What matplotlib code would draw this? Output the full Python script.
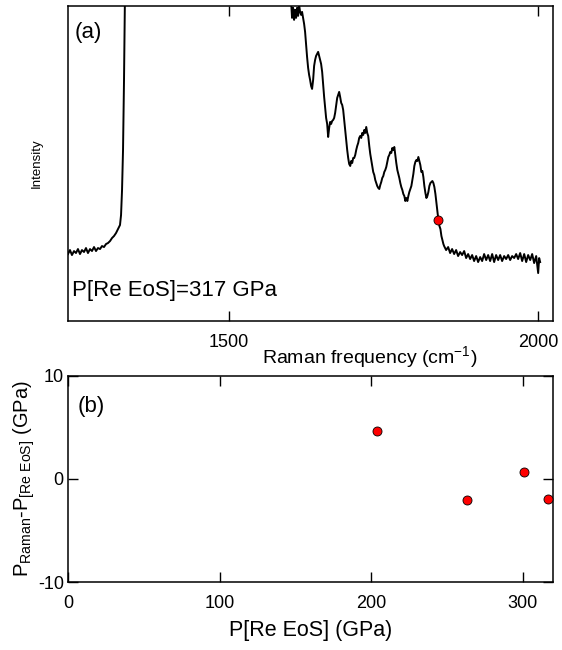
import matplotlib
matplotlib.use("Agg")
import matplotlib.pyplot as plt

plt.rcParams['font.family'] = ['Liberation Sans', 'DejaVu Sans']
plt.rcParams['mathtext.fontset'] = 'custom'
plt.rcParams['mathtext.rm'] = 'Liberation Sans'
plt.rcParams['mathtext.it'] = 'Liberation Sans:italic'
plt.rcParams['axes.unicode_minus'] = False

# (a) Raman spectrum, P[Re EoS] = 317 GPa (intensity in arbitrary units)
raman_shift = [
    1239.5, 1242.7, 1245.9, 1249.2, 1252.4, 1255.6, 1258.9, 1262.1, 1265.4, 1268.6,
    1271.8, 1275.1, 1278.3, 1281.6, 1284.8, 1288.0, 1291.3, 1294.5, 1297.7, 1301.0,
    1304.2, 1307.5, 1310.7, 1313.9, 1317.2, 1320.4, 1323.6, 1325.3, 1326.9, 1328.5,
    1330.1, 1331.7, 1333.4, 1340.0, 1595.0,
    1600.3, 1601.9, 1603.6, 1605.2, 1606.8, 1608.4, 1610.0, 1611.7, 1613.3, 1614.9,
    1616.5, 1618.1, 1619.8, 1621.4, 1623.0, 1624.6, 1626.2, 1627.9, 1629.5, 1631.1,
    1632.7, 1634.3, 1636.0, 1637.6, 1639.2, 1640.8, 1642.5, 1644.1, 1645.7, 1647.3,
    1648.9, 1650.6, 1652.2, 1653.8, 1655.4, 1657.0, 1658.7, 1660.3, 1661.9, 1663.5,
    1665.1, 1666.8, 1668.4, 1670.0, 1671.6, 1673.3, 1674.9, 1676.5, 1678.1, 1679.7,
    1681.4, 1683.0, 1684.6, 1686.2, 1687.8, 1689.5, 1691.1, 1692.7, 1694.3, 1696.0,
    1697.6, 1699.2, 1700.8, 1702.4, 1704.1, 1705.7, 1707.3, 1708.9, 1710.5, 1712.2,
    1713.8, 1715.4, 1717.0, 1718.7, 1720.3, 1721.9, 1723.5, 1725.1, 1726.8, 1728.4,
    1730.0, 1731.6, 1733.2, 1734.9, 1736.5, 1738.1, 1739.7, 1741.4, 1743.0, 1744.6,
    1746.2, 1747.8, 1749.5, 1751.1, 1752.7, 1754.3, 1755.9, 1757.6, 1759.2, 1760.8,
    1762.4, 1764.1, 1765.7, 1767.3, 1768.9, 1770.5, 1772.2, 1773.8, 1775.4, 1777.0,
    1778.6, 1780.3, 1781.9, 1783.5, 1785.1, 1786.8, 1788.4, 1790.0, 1791.6, 1793.2,
    1794.9, 1796.5, 1798.1, 1799.7, 1801.3, 1803.0, 1804.6, 1806.2, 1807.8, 1809.4,
    1811.1, 1812.7, 1814.3, 1815.9, 1817.6, 1819.2, 1820.8, 1822.4, 1824.0, 1825.7,
    1827.3, 1828.9, 1830.5, 1832.1, 1833.8, 1835.4, 1837.0, 1838.6, 1840.3, 1841.9,
    1843.5, 1845.1, 1846.7,
    1847.9, 1851.1, 1854.4, 1857.6, 1860.8, 1864.1, 1867.3, 1870.5, 1873.8, 1877.0,
    1880.3, 1883.5, 1886.7, 1890.0, 1893.2, 1896.4, 1899.7, 1902.9, 1906.2, 1909.4,
    1912.6, 1915.9, 1919.1, 1922.3, 1925.6, 1928.8, 1932.0, 1935.3, 1938.5, 1941.7,
    1945.0, 1948.2, 1951.5, 1954.7, 1957.9, 1961.2, 1964.4, 1967.6, 1970.9, 1974.1,
    1977.4, 1980.6, 1983.8, 1987.1, 1990.3, 1993.5, 1996.8, 2000.0, 2001.6, 2003.2,
]
intensity = [
    67, 71, 66, 70, 68, 72, 67, 71, 69, 73,
    68, 72, 70, 74, 70, 73, 72, 75, 74, 77,
    78, 80, 83, 85, 88, 92, 96, 106, 131, 171,
    241, 330, 450, 700, 700,
    320, 303, 313, 301, 311, 303, 313, 305, 316, 309,
    306, 309, 303, 297, 289, 276, 264, 253, 246, 241,
    235, 232, 241, 255, 261, 265, 267, 269, 265, 261,
    257, 249, 236, 224, 213, 203, 197, 184, 193, 199,
    197, 200, 201, 203, 208, 216, 223, 226, 229, 224,
    218, 216, 211, 201, 191, 181, 171, 163, 157, 155,
    160, 158, 163, 163, 166, 171, 175, 178, 183, 185,
    183, 188, 186, 191, 188, 194, 188, 185, 175, 167,
    161, 155, 149, 146, 141, 138, 135, 133, 132, 136,
    139, 143, 145, 149, 151, 154, 159, 164, 166, 169,
    168, 173, 171, 174, 166, 158, 151, 147, 143, 138,
    134, 131, 127, 125, 120, 123, 120, 125, 129, 132,
    135, 141, 147, 155, 159, 161, 160, 164, 160, 156,
    149, 150, 144, 135, 128, 123, 125, 129, 135, 138,
    139, 140, 138, 134, 127, 118, 109, 101, 95, 92,
    85, 81, 77,
    75, 71, 74, 68, 72, 67, 71, 65, 69, 66,
    70, 63, 67, 62, 66, 60, 65, 59, 64, 60,
    67, 61, 66, 60, 67, 59, 66, 61, 66, 60,
    65, 62, 66, 61, 65, 63, 67, 62, 68, 60,
    67, 59, 66, 61, 67, 58, 65, 48, 63, 59,
]
marker_shift = [1838.6]
marker_intensity = [101]

# (b) pressure difference vs Re EoS pressure
p_re_eos = [204, 263, 301, 317]
p_diff = [4.7, -2.0, 0.7, -1.9]

fig = plt.figure(figsize=(5.62, 6.5), dpi=100)
ax1 = fig.add_axes([0.121, 0.506, 0.863, 0.485])
ax2 = fig.add_axes([0.121, 0.1046, 0.863, 0.317])

# panel (a)
ax1.plot(raman_shift, intensity, color='black', lw=1.4)
ax1.plot(marker_shift, marker_intensity, 'o', ms=6.5, mfc='red', mec='black', mew=0.6)
ax1.set_xlim(1239.5, 2024)
ax1.set_ylim(0, 315)
ax1.set_xticks([1500, 2000])
ax1.set_yticks([])
ax1.tick_params(axis='x', direction='in', length=7, width=1, top=True, labelsize=13, pad=9)
ax1.set_xlabel('Raman frequency (cm$^{-1}$)', fontsize=14)
ax1.xaxis.set_label_coords(0.623, -0.072)
ax1.set_ylabel('Intensity', fontsize=9.5, labelpad=18)
ax1.text(0.014, 0.915, '(a)', transform=ax1.transAxes, fontsize=16, va='center')
ax1.text(0.008, 0.098, 'P[Re EoS]=317 GPa', transform=ax1.transAxes, fontsize=16, va='center')

# panel (b)
ax2.plot(p_re_eos, p_diff, 'o', ms=6.5, mfc='red', mec='black', mew=0.6, clip_on=False, zorder=3)
ax2.set_xlim(0, 320)
ax2.set_ylim(-10, 10)
ax2.set_xticks([0, 100, 200, 300])
ax2.set_yticks([-10, 0, 10])
ax2.tick_params(direction='in', length=7, width=1, top=True, right=True, labelsize=13)
ax2.tick_params(axis='x', pad=9)
ax2.tick_params(axis='y', pad=3)
ax2.set_xlabel('P[Re EoS] (GPa)', fontsize=15.5, labelpad=6)
ax2.set_ylabel(r'P$_{\mathrm{Raman}}$-P$_{\mathrm{[Re\ EoS]}}$ (GPa)', fontsize=14.5)
ax2.yaxis.set_label_coords(-0.064, 0.5)
ax2.text(0.019, 0.85, '(b)', transform=ax2.transAxes, fontsize=16, va='center')

for ax in (ax1, ax2):
    for s in ax.spines.values():
        s.set_linewidth(1.1)

fig.savefig('out.png', dpi=100)
